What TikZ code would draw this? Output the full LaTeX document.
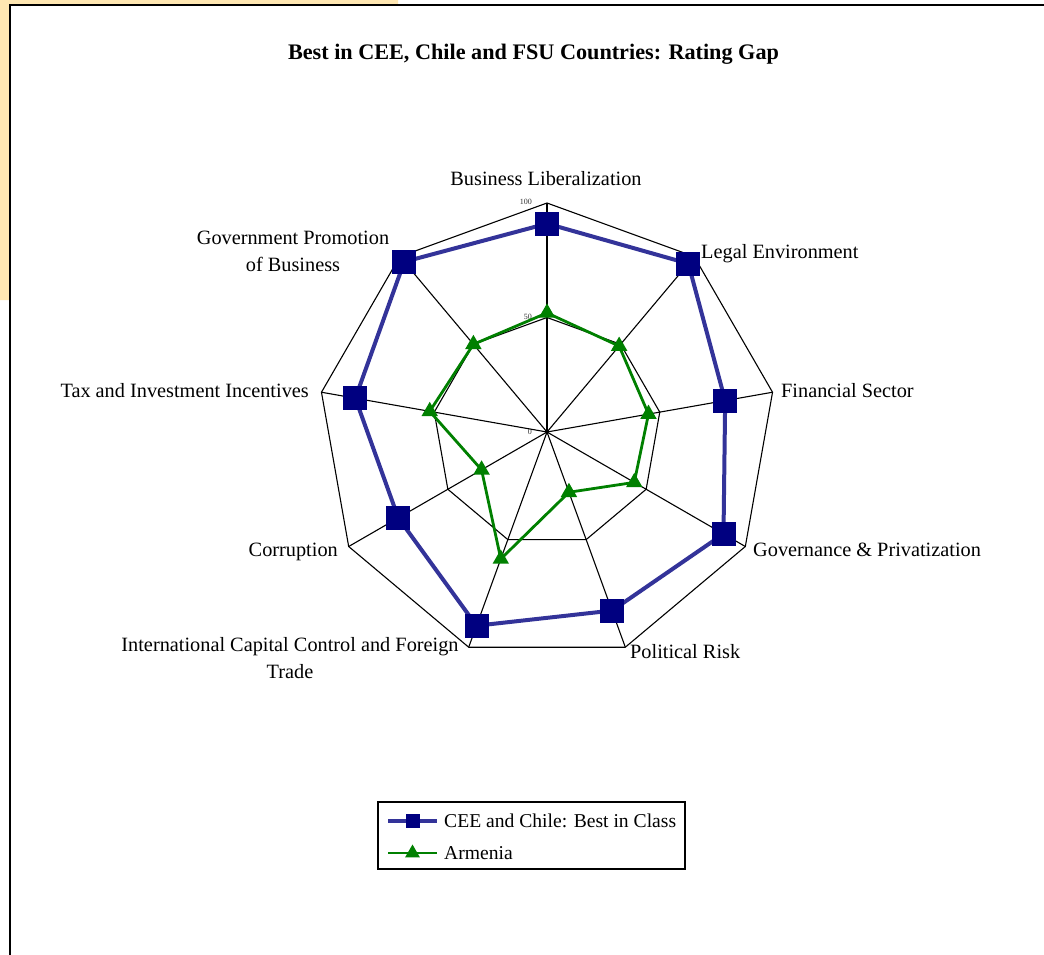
\documentclass[tikz,border=0pt]{standalone}
\usepackage{fontspec}
\setmainfont{Liberation Serif}
\usetikzlibrary{positioning, calc, shapes.geometric}

\definecolor{bestline}{RGB}{51,51,153}
\definecolor{bestfill}{RGB}{0,0,128}
\definecolor{armgreen}{RGB}{0,128,0}
\definecolor{pageyellow}{RGB}{255,231,178}

\begin{document}
\begin{tikzpicture}[
    x=1pt, y=1pt,
    grid/.style={draw=black, line width=1.1pt, line join=round},
    bestpath/.style={draw=bestline, line width=4pt, line join=round},
    armpath/.style={draw=armgreen, line width=2.8pt, line join=round},
    bestsq/.style={rectangle, fill=bestfill, minimum size=24pt, inner sep=0pt},
    legsq/.style={rectangle, fill=bestfill, minimum size=14pt, inner sep=0pt},
    armtri/.style={regular polygon, regular polygon sides=3, fill=armgreen, minimum size=19pt, inner sep=0pt},
    lab/.style={inner sep=0pt, font=\fontsize{20.3}{27}\selectfont},
    tick/.style={inner sep=0pt, text=black!80, font=\fontsize{8}{9}\selectfont}
]
\useasboundingbox (0,0) rectangle (1044,-954);
\clip (0,0) rectangle (1044,-954);

% page behind the chart
\fill[pageyellow, rounded corners=22pt] (-40,40) rectangle (398,-300);
\draw[line width=2pt, fill=white] (10,-5) rectangle (1080,-990);

\node[inner sep=0pt, font=\fontsize{22.2}{26}\selectfont\bfseries, anchor=base] (title) at (533.5,-59)
    {Best in CEE, Chile and FSU Countries: Rating Gap};

% radar grid
\coordinate (c) at (547,-432);
\foreach \k in {0,...,8} {
    \coordinate (ax\k) at ($(c)+({90-40*\k}:229)$);
    \coordinate (md\k) at ($(c)+({90-40*\k}:114.5)$);
}
\foreach \k in {0,...,8}
    \draw[grid] (c) -- (ax\k);
\draw[grid] (ax0) \foreach \k in {1,...,8} { -- (ax\k)} -- cycle;
\draw[grid] (md0) \foreach \k in {1,...,8} { -- (md\k)} -- cycle;

\node[tick, anchor=east] (t100) at (532,-202) {100};
\node[tick, anchor=east] (t50) at (532,-317) {50};
\node[tick, anchor=east] (t0) at (532,-432) {0};

% CEE and Chile: best in class
\foreach \v [count=\k from 0] in {91,96,79,89,83,90,75,85,97}
    \coordinate (b\k) at ($(c)+({90-40*\k}:{2.29*\v})$);
\draw[bestpath] (b0) \foreach \k in {1,...,8} { -- (b\k)} -- cycle;
\foreach \k in {0,...,8}
    \node[bestsq] (bs\k) at (b\k) {};

% Armenia
\foreach \v [count=\k from 0] in {52,49,45,44,28,59,33,52,50}
    \coordinate (a\k) at ($(c)+({90-40*\k}:{2.29*\v})$);
\draw[armpath] (a0) \foreach \k in {1,...,8} { -- (a\k)} -- cycle;
\foreach \k in {0,...,8}
    \node[armtri] (at\k) at (a\k) {};

% axis labels
\node[lab, anchor=base] (lbl0) at (546,-185.5) {Business Liberalization};
\node[lab, anchor=base west] (lbl1) at (701,-258.5) {Legal Environment};
\node[lab, anchor=base west] (lbl2) at (781,-397.5) {Financial Sector};
\node[lab, anchor=base west] (lbl3) at (753,-556.5) {Governance \& Privatization};
\node[lab, anchor=base west] (lbl4) at (630,-658.5) {Political Risk};
\node[lab, align=center] (lbl5) at (290,-658.5) {International Capital Control and Foreign\\Trade};
\node[lab, anchor=base east] (lbl6) at (338,-556.5) {Corruption};
\node[lab, anchor=base east] (lbl7) at (309,-397.5) {Tax and Investment Incentives};
\node[lab, align=center] (lbl8) at (293,-251.5) {Government Promotion\\of Business};

% legend
\node[draw, line width=1.2pt, minimum width=307pt, minimum height=67pt, inner sep=0pt] (legend) at (531.5,-835.5) {};
\coordinate (l1a) at (388,-821);
\coordinate (l1b) at (437,-821);
\coordinate (l2a) at (388,-853);
\coordinate (l2b) at (437,-853);
\draw[bestpath] (l1a) -- (l1b);
\node[legsq] (lm1) at ($(l1a)!0.5!(l1b)$) {};
\draw[armpath] (l2a) -- (l2b);
\node[armtri, minimum size=17pt] (lm2) at ($(l2a)!0.5!(l2b)$) {};
\node[lab, anchor=base west, font=\fontsize{19.6}{24}\selectfont] (leg1) at (444,-827.5) {CEE and Chile: Best in Class};
\node[lab, anchor=base west, font=\fontsize{19.6}{24}\selectfont] (leg2) at (444,-859.5) {Armenia};

\end{tikzpicture}
\end{document}
